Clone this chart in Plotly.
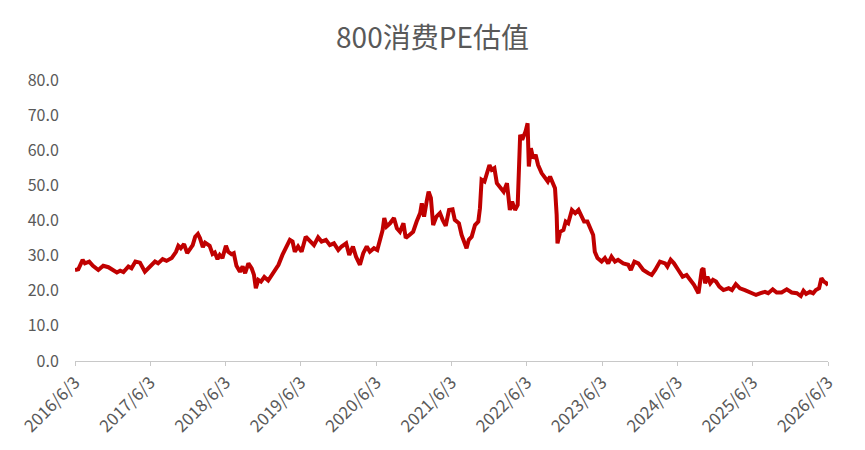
import plotly.graph_objects as go

dates = [
    "2016-06-03","2016-06-19","2016-07-10","2016-07-21","2016-08-11","2016-08-29","2016-09-24","2016-10-18",
    "2016-11-12","2016-12-06","2016-12-23","2017-01-08","2017-01-24","2017-02-17","2017-03-04","2017-03-23",
    "2017-04-14","2017-05-08","2017-06-01","2017-06-26","2017-07-11","2017-08-02","2017-08-21","2017-09-15",
    "2017-10-06","2017-10-17","2017-10-29","2017-11-14","2017-11-29","2017-12-13","2017-12-26","2018-01-07",
    "2018-01-20","2018-01-30","2018-02-13","2018-02-24","2018-03-08","2018-03-18","2018-04-01","2018-04-12",
    "2018-04-25","2018-05-06","2018-05-19","2018-06-05","2018-06-16","2018-07-02","2018-07-13","2018-07-26",
    "2018-08-12","2018-08-25","2018-09-06","2018-09-22","2018-10-08","2018-10-19","2018-10-28","2018-11-09",
    "2018-11-22","2018-12-08","2018-12-27","2019-01-21","2019-02-15","2019-03-06","2019-03-22","2019-04-11",
    "2019-04-24","2019-05-05","2019-05-21","2019-06-07","2019-06-27","2019-07-16","2019-08-06","2019-08-26",
    "2019-09-12","2019-10-03","2019-10-22","2019-11-11","2019-12-02","2019-12-18","2020-01-09","2020-01-24",
    "2020-02-11","2020-02-26","2020-03-16","2020-04-01","2020-04-18","2020-05-03","2020-05-23","2020-06-08",
    "2020-06-21","2020-07-04","2020-07-12","2020-07-23","2020-08-09","2020-08-28","2020-09-11","2020-09-26",
    "2020-10-13","2020-10-24","2020-11-11","2020-11-29","2020-12-16","2021-01-02","2021-01-10","2021-01-21",
    "2021-02-04","2021-02-12","2021-02-23","2021-03-06","2021-03-22","2021-04-08","2021-04-21","2021-05-06",
    "2021-05-22","2021-06-08","2021-06-19","2021-07-09","2021-07-22","2021-08-04","2021-08-15","2021-08-26",
    "2021-09-09","2021-09-25","2021-10-11","2021-10-19","2021-10-27","2021-11-10","2021-11-21","2021-12-04",
    "2021-12-15","2021-12-28","2022-01-09","2022-01-25","2022-02-11","2022-02-27","2022-03-05","2022-03-13",
    "2022-03-24","2022-04-07","2022-04-20","2022-04-26","2022-05-02","2022-05-12","2022-05-21","2022-05-28",
    "2022-06-07","2022-06-13","2022-06-23","2022-07-04","2022-07-16","2022-07-28","2022-08-14","2022-08-29",
    "2022-09-13","2022-09-24","2022-10-05","2022-10-18","2022-10-26","2022-10-30","2022-11-12","2022-11-28",
    "2022-12-09","2022-12-21","2023-01-08","2023-01-24","2023-02-09","2023-02-22","2023-03-08","2023-03-24",
    "2023-04-10","2023-04-21","2023-04-29","2023-05-12","2023-06-01","2023-06-17","2023-07-03","2023-07-19",
    "2023-08-05","2023-08-20","2023-09-14","2023-10-08","2023-10-21","2023-11-07","2023-11-26","2023-12-20",
    "2024-01-14","2024-01-30","2024-02-16","2024-03-10","2024-04-04","2024-04-15","2024-05-01","2024-05-17",
    "2024-06-07","2024-06-28","2024-07-17","2024-08-03","2024-08-22","2024-09-13","2024-09-21","2024-09-29",
    "2024-10-07","2024-10-15","2024-10-26","2024-11-09","2024-11-22","2024-12-07","2024-12-23","2025-01-12",
    "2025-02-06","2025-02-22","2025-03-13","2025-04-02","2025-04-26","2025-05-20","2025-06-19","2025-07-11",
    "2025-08-01","2025-08-17","2025-09-08","2025-09-27","2025-10-21","2025-11-15","2025-12-09","2026-01-03",
    "2026-01-22","2026-02-04","2026-02-17","2026-03-07","2026-03-23","2026-04-05","2026-04-21","2026-05-02",
    "2026-05-14","2026-05-27","2026-06-03",
]

pe_values = [
    25.9, 26.1, 28.8, 27.8, 28.3, 27.1, 25.9, 27.1,
    26.7, 25.9, 25.2, 25.7, 25.3, 26.9, 26.4, 28.3,
    28.0, 25.4, 26.9, 28.3, 27.8, 29.0, 28.5, 29.3,
    31.1, 32.8, 32.1, 33.3, 30.7, 32.1, 33.0, 35.4,
    36.2, 35.0, 32.4, 33.7, 33.3, 32.8, 30.5, 30.9,
    29.0, 30.2, 29.3, 32.8, 31.1, 30.4, 30.7, 27.1,
    25.4, 26.9, 25.0, 27.8, 26.4, 24.5, 20.7, 23.1,
    22.6, 23.9, 22.9, 25.4, 27.4, 30.2, 32.1, 34.5,
    34.0, 31.1, 32.6, 31.1, 35.4, 34.3, 33.0, 35.2,
    34.0, 34.5, 33.0, 33.5, 31.6, 32.6, 33.5, 30.2,
    32.6, 29.7, 27.4, 30.7, 32.6, 31.1, 32.1, 31.6,
    34.0, 37.3, 40.7, 38.3, 39.2, 40.7, 37.8, 36.8,
    39.2, 35.0, 35.9, 36.8, 39.7, 42.1, 44.9, 41.1,
    45.9, 48.2, 46.4, 38.7, 41.1, 42.1, 40.2, 38.5,
    43.0, 43.2, 40.2, 39.2, 35.9, 33.5, 32.1, 34.5,
    35.4, 38.7, 39.7, 43.5, 51.6, 51.1, 53.5, 55.8,
    54.4, 54.9, 50.6, 49.2, 48.2, 50.6, 47.3, 43.0,
    45.4, 43.0, 44.4, 56.8, 64.4, 63.0, 64.4, 65.3,
    67.7, 55.4, 60.6, 57.7, 58.7, 55.8, 53.5, 52.5,
    51.1, 52.5, 50.6, 49.2, 41.6, 33.5, 36.8, 37.3,
    39.7, 39.2, 43.0, 42.1, 43.0, 41.1, 39.7, 39.7,
    37.3, 35.9, 31.1, 29.3, 28.3, 29.3, 27.8, 29.7,
    28.3, 28.8, 27.8, 27.4, 25.9, 28.3, 27.8, 25.9,
    25.0, 24.5, 25.9, 28.3, 27.8, 26.9, 28.8, 27.8,
    25.9, 24.0, 24.5, 23.1, 21.7, 19.3, 22.6, 25.9,
    26.4, 22.1, 24.0, 22.1, 23.1, 22.6, 21.2, 20.2,
    20.7, 20.2, 21.9, 20.7, 20.2, 19.7, 18.8, 19.3,
    19.7, 19.3, 20.4, 19.5, 19.5, 20.4, 19.5, 19.3,
    18.5, 20.0, 19.1, 19.7, 19.3, 20.2, 20.7, 23.6,
    22.6, 22.1, 21.6,
]

tick_dates = ["2016-06-03", "2017-06-03", "2018-06-03", "2019-06-03", "2020-06-03", "2021-06-03",
              "2022-06-03", "2023-06-03", "2024-06-03", "2025-06-03", "2026-06-03"]
tick_labels = ["2016/6/3", "2017/6/3", "2018/6/3", "2019/6/3", "2020/6/3", "2021/6/3",
               "2022/6/3", "2023/6/3", "2024/6/3", "2025/6/3", "2026/6/3"]

title_text = "800消费PE估值"

GREY = "#595959"
FONT = "Noto Sans CJK SC, Noto Sans, sans-serif"

fig = go.Figure()
fig.add_trace(go.Scatter(
    x=dates, y=pe_values, mode="lines",
    line=dict(color="#C00000", width=4),
    hoverinfo="x+y", showlegend=False,
))

fig.update_layout(
    width=865, height=450,
    margin=dict(l=75, r=37, t=80, b=89),
    paper_bgcolor="white", plot_bgcolor="white",
    title=dict(text=title_text, x=0.5, xanchor="center", y=1 - 38 / 450, yanchor="middle",
               font=dict(family=FONT, size=28, color=GREY)),
    font=dict(family=FONT, color=GREY),
)

fig.update_xaxes(
    type="date",
    range=["2016-06-03", "2026-06-03"],
    tickmode="array", tickvals=tick_dates, ticktext=tick_labels,
    tickangle=-45,
    tickfont=dict(family=FONT, size=17, color=GREY),
    showgrid=False, zeroline=False,
    showline=True, linecolor="#C8C8C8", linewidth=1,
    ticks="outside", ticklen=4, tickcolor="#C8C8C8", tickwidth=1,
)

fig.update_yaxes(
    range=[0, 80], dtick=10, tick0=0, tickformat=".1f",
    tickfont=dict(family=FONT, size=16, color=GREY),
    showgrid=False, zeroline=False, showline=False,
    ticks="outside", ticklen=12, tickcolor="rgba(0,0,0,0)",
)

fig.write_html("out.html")
